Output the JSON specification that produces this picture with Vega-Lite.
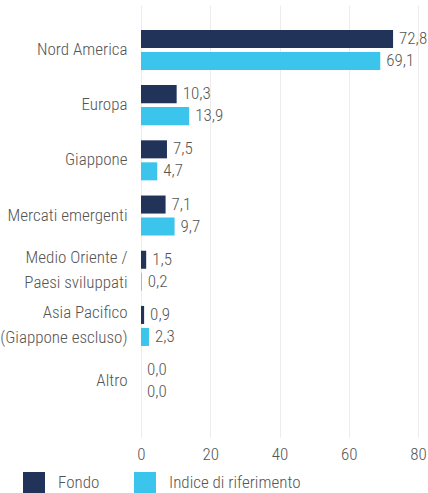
{
  "$schema": "https://vega.github.io/schema/vega-lite/v6.json",
  "width": 277,
  "height": 432,
  "autosize": {"type": "none"},
  "padding": {"left": 141, "top": 5, "right": 10, "bottom": 56},
  "background": "white",
  "data": {
    "values": [
      {"area": "Nord America", "serie": "Fondo", "valore": 72.8},
      {"area": "Nord America", "serie": "Indice di riferimento", "valore": 69.1},
      {"area": "Europa", "serie": "Fondo", "valore": 10.3},
      {"area": "Europa", "serie": "Indice di riferimento", "valore": 13.9},
      {"area": "Giappone", "serie": "Fondo", "valore": 7.5},
      {"area": "Giappone", "serie": "Indice di riferimento", "valore": 4.7},
      {"area": "Mercati emergenti", "serie": "Fondo", "valore": 7.1},
      {"area": "Mercati emergenti", "serie": "Indice di riferimento", "valore": 9.7},
      {"area": "Medio Oriente /|Paesi sviluppati", "serie": "Fondo", "valore": 1.5},
      {"area": "Medio Oriente /|Paesi sviluppati", "serie": "Indice di riferimento", "valore": 0.2},
      {"area": "Asia Pacifico|(Giappone escluso)", "serie": "Fondo", "valore": 0.9},
      {"area": "Asia Pacifico|(Giappone escluso)", "serie": "Indice di riferimento", "valore": 2.3},
      {"area": "Altro", "serie": "Fondo", "valore": 0.0},
      {"area": "Altro", "serie": "Indice di riferimento", "valore": 0.0}
    ]
  },
  "transform": [
    {"calculate": "replace(format(datum.valore, '.1f'), '.', ',')", "as": "etichetta"}
  ],
  "encoding": {
    "y": {
      "field": "area",
      "type": "nominal",
      "sort": null,
      "title": null,
      "scale": {"paddingInner": 0.275, "paddingOuter": 0.55, "align": 0.41},
      "axis": {
        "domain": false,
        "ticks": false,
        "grid": false,
        "labelPadding": 14,
        "labelFontSize": 17,
        "labelFontWeight": 300,
        "labelColor": "#555555",
        "labelLineHeight": 25,
        "labelLimit": 300,
        "labelOffset": {"condition": {"test": "indexof(datum.value, '|') >= 0", "value": -12.5}, "value": 0},
        "labelExpr": "split(datum.label, '|')"
      }
    },
    "yOffset": {
      "field": "serie",
      "type": "nominal",
      "sort": ["Fondo", "Indice di riferimento"],
      "scale": {"paddingInner": 0.18, "paddingOuter": 0}
    },
    "x": {
      "field": "valore",
      "type": "quantitative",
      "title": null,
      "scale": {"domain": [0, 80], "nice": false},
      "axis": {
        "values": [0, 20, 40, 60, 80],
        "domain": false,
        "ticks": false,
        "grid": true,
        "gridColor": "#ececec",
        "gridWidth": 1,
        "labelPadding": 9,
        "labelFontSize": 17,
        "labelFontWeight": 300,
        "labelColor": "#555555",
        "labelFlush": false
      }
    }
  },
  "layer": [
    {
      "mark": {"type": "bar"},
      "encoding": {
        "color": {
          "field": "serie",
          "type": "nominal",
          "sort": ["Fondo", "Indice di riferimento"],
          "scale": {"domain": ["Fondo", "Indice di riferimento"], "range": ["#22335a", "#3bc5ec"]},
          "legend": {
            "title": null,
            "orient": "none",
            "direction": "horizontal",
            "legendX": -118,
            "legendY": 467,
            "symbolType": "square",
            "symbolSize": 484,
            "symbolStrokeWidth": 0,
            "symbolOpacity": 1,
            "labelFontSize": 17,
            "labelFontWeight": 300,
            "labelColor": "#555555",
            "labelOffset": 13,
            "labelLimit": 300,
            "columnPadding": 34
          }
        }
      }
    },
    {
      "mark": {"type": "text", "align": "left", "baseline": "middle", "dx": 6, "fontSize": 17, "fontWeight": 300, "color": "#555555"},
      "encoding": {
        "text": {"field": "etichetta"}
      }
    }
  ],
  "config": {
    "font": "Roboto Condensed, Open Sans Condensed, Liberation Sans Narrow, DejaVu Sans Condensed, sans-serif",
    "view": {"stroke": null}
  }
}
